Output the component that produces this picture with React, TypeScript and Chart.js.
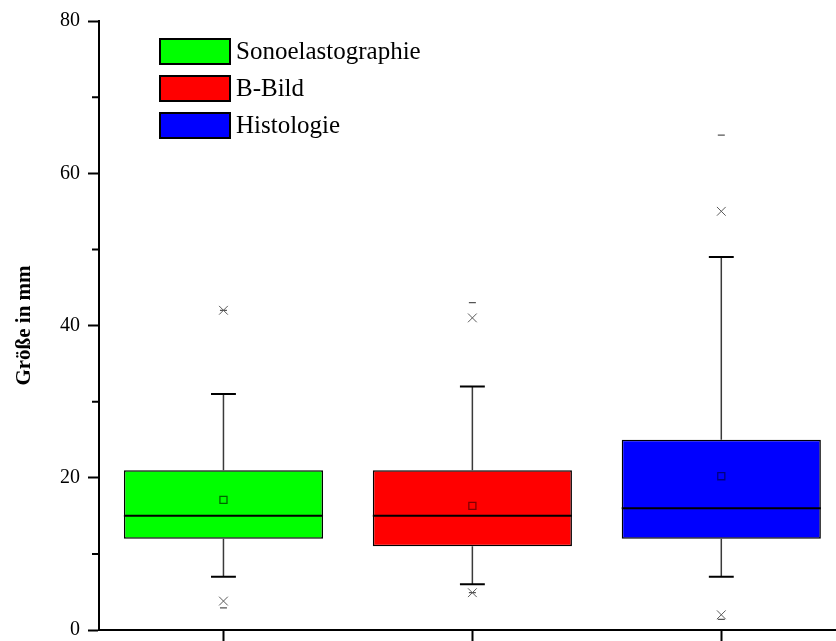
import React, { useEffect, useRef } from "react";
import { Chart, registerables } from "chart.js";

Chart.register(...registerables);

const categories = ["Sonoelastographie", "B-Bild", "Histologie"];
const q1 = [12, 11, 12];
const q3 = [21, 21, 25];
const median = [15, 15, 16];
const whiskerLow = [7, 6, 7];
const whiskerHigh = [31, 32, 49];
const mean = [17.1, 16.3, 20.2];
const pct1 = [3.8, 4.9, 2.0];
const pct99 = [42, 41, 55];
const minVal = [2.9, 4.9, 1.4];
const maxVal = [42, 43, 65];
const fillColors = ["#00ff00", "#ff0000", "#0000ff"];
const meanColors = ["#006400", "#800000", "#000080"];
const yMajorTicks = [0, 20, 40, 60, 80];
const yMinorTicks = [10, 30, 50, 70];

const FONT = "'Liberation Serif', 'Times New Roman', serif";

const boxPlugin = {
  id: "boxExtras",
  afterDatasetsDraw(chart: any) {
    const { ctx, scales } = chart;
    const xs = scales.x;
    const ys = scales.y;
    const meta = chart.getDatasetMeta(0);
    ctx.save();
    categories.forEach((_, i) => {
      const bar = meta.data[i];
      const props = bar.getProps(["x", "width"], true);
      const cx = props.x;
      const half = props.width / 2;
      // median
      ctx.strokeStyle = "#000";
      ctx.lineWidth = 2;
      ctx.beginPath();
      const my = ys.getPixelForValue(median[i]);
      ctx.moveTo(cx - half, my);
      ctx.lineTo(cx + half, my);
      ctx.stroke();
      // whiskers
      const capL = xs.getPixelForValue(i + 1 - 0.05);
      const capR = xs.getPixelForValue(i + 1 + 0.05);
      ctx.strokeStyle = "#3a3a3a";
      ctx.lineWidth = 1.5;
      ctx.beginPath();
      ctx.moveTo(cx, ys.getPixelForValue(q3[i]));
      ctx.lineTo(cx, ys.getPixelForValue(whiskerHigh[i]));
      ctx.moveTo(cx, ys.getPixelForValue(q1[i]));
      ctx.lineTo(cx, ys.getPixelForValue(whiskerLow[i]));
      ctx.stroke();
      ctx.strokeStyle = "#000";
      ctx.lineWidth = 2;
      ctx.beginPath();
      const hy = ys.getPixelForValue(whiskerHigh[i]);
      const ly = ys.getPixelForValue(whiskerLow[i]);
      ctx.moveTo(capL, hy);
      ctx.lineTo(capR, hy);
      ctx.moveTo(capL, ly);
      ctx.lineTo(capR, ly);
      ctx.stroke();
    });
    ctx.restore();
  },
  afterDraw(chart: any) {
    const { ctx, chartArea, scales } = chart;
    const ys = scales.y;
    ctx.save();
    // minor ticks
    ctx.strokeStyle = "#000";
    ctx.lineWidth = 2;
    ctx.beginPath();
    yMinorTicks.forEach((v) => {
      const y = ys.getPixelForValue(v);
      ctx.moveTo(chartArea.left - 7, y);
      ctx.lineTo(chartArea.left, y);
    });
    ctx.stroke();
    // legend
    const lx = chartArea.left + 61;
    const ly0 = chartArea.top + 18;
    ctx.font = `25px ${FONT}`;
    ctx.textBaseline = "middle";
    ctx.textAlign = "left";
    categories.forEach((name, i) => {
      const y = ly0 + i * 37;
      ctx.fillStyle = fillColors[i];
      ctx.fillRect(lx, y, 70, 25);
      ctx.strokeStyle = "#000";
      ctx.lineWidth = 2;
      ctx.strokeRect(lx, y, 70, 25);
      ctx.fillStyle = "#000";
      ctx.fillText(name, lx + 76, y + 13);
    });
    ctx.restore();
  },
};

export default function App() {
  const ref = useRef<HTMLCanvasElement>(null);
  useEffect(() => {
    if (!ref.current) return;
    const idx = categories.map((_, i) => i + 1);
    const chart = new Chart(ref.current, {
      type: "bar",
      data: {
        datasets: [
          {
            type: "bar",
            order: 10,
            data: idx.map((x, i) => ({ x, y: [q1[i], q3[i]] })) as any,
            backgroundColor: fillColors,
            borderColor: "#000",
            borderWidth: 1.5,
            borderSkipped: false,
            barPercentage: 0.8,
            categoryPercentage: 1,
            grouped: false,
          } as any,
          {
            type: "scatter",
            order: 1,
            data: idx.map((x, i) => ({ x, y: mean[i] })),
            pointStyle: "rect",
            pointRadius: 5,
            pointBorderWidth: 1.3,
            pointBackgroundColor: "rgba(0,0,0,0)",
            pointBorderColor: meanColors,
          } as any,
          {
            type: "scatter",
            order: 1,
            data: [
              ...idx.map((x, i) => ({ x, y: pct1[i] })),
              ...idx.map((x, i) => ({ x, y: pct99[i] })),
            ],
            pointStyle: "crossRot",
            pointRadius: 6.2,
            pointBorderWidth: 1,
            pointBorderColor: "#5a5a5a",
          } as any,
          {
            type: "scatter",
            order: 1,
            data: [
              ...idx.map((x, i) => ({ x, y: minVal[i] })),
              ...idx.map((x, i) => ({ x, y: maxVal[i] })),
            ],
            pointStyle: "line",
            pointRadius: 3.5,
            pointBorderWidth: 1.2,
            pointBorderColor: "#555",
          } as any,
        ],
      },
      options: {
        responsive: false,
        animation: false,
        events: [],
        layout: { padding: { top: 21, left: 0, right: 0, bottom: 0 } },
        plugins: { legend: { display: false }, tooltip: { enabled: false } },
        scales: {
          x: {
            type: "linear",
            min: 0.5,
            max: 3.46,
            offset: false,
            afterBuildTicks: (s: any) => {
              s.ticks = idx.map((v) => ({ value: v }));
            },
            afterFit: (s: any) => {
              s.height = 11;
              s.paddingLeft = 0;
              s.paddingRight = 0;
            },
            ticks: { display: false },
            grid: {
              offset: false,
              drawOnChartArea: false,
              drawTicks: true,
              tickLength: 11,
              tickColor: "#000",
              tickWidth: 2,
            },
            border: { color: "#000", width: 2 },
          },
          y: {
            type: "linear",
            min: 0,
            max: 80,
            afterBuildTicks: (s: any) => {
              s.ticks = yMajorTicks.map((v) => ({ value: v }));
            },
            afterFit: (s: any) => {
              s.width = 99;
              s.paddingTop = 0;
              s.paddingBottom = 0;
            },
            ticks: {
              color: "#000",
              padding: 8,
              font: { family: FONT, size: 20 },
            },
            grid: {
              drawOnChartArea: false,
              drawTicks: true,
              tickLength: 11,
              tickColor: "#000",
              tickWidth: 2,
            },
            border: { color: "#000", width: 2 },
            title: {
              display: true,
              text: "Größe in mm",
              color: "#000",
              font: { family: FONT, size: 21, weight: "bold" },
              padding: { top: 12, bottom: 0 },
            },
          },
        },
      } as any,
      plugins: [boxPlugin],
    });
    return () => chart.destroy();
  }, []);
  return (
    <div
      style={{
        position: "fixed",
        left: 0,
        top: 0,
        width: 836,
        height: 641,
        background: "#fff",
        overflow: "hidden",
      }}
    >
      <canvas ref={ref} width={843} height={641} style={{ display: "block" }} />
    </div>
  );
}
